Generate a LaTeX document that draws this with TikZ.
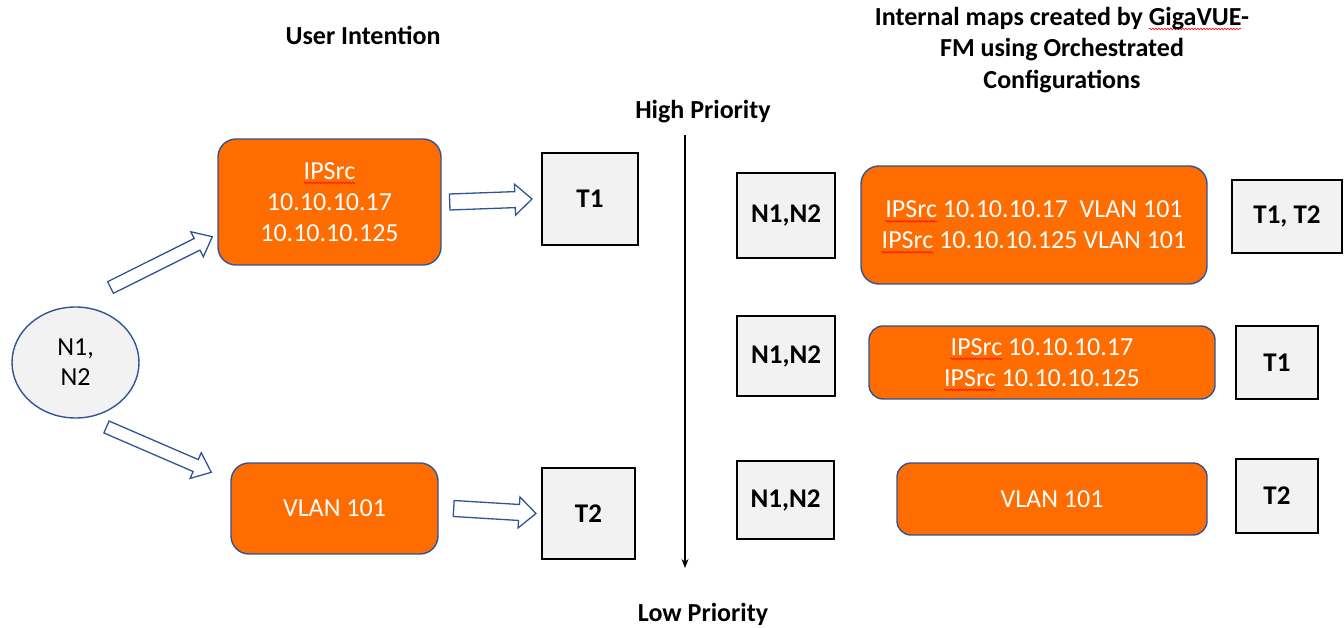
\documentclass[tikz,border=0pt]{standalone}
\usepackage{fontspec}
\setmainfont{Carlito}
\usetikzlibrary{calc,arrows.meta,shapes.geometric,decorations.pathmorphing}
\definecolor{orangeF}{RGB}{255,108,0}
\definecolor{blueL}{RGB}{47,85,151}
\definecolor{grayF}{RGB}{242,242,242}
\newlength\sqw
\newcommand\sq[1]{\settowidth\sqw{#1}\rlap{\tikz[overlay,baseline=0pt,x=1pt,y=1pt]\draw[red,line width=0.6pt,sharp corners,solid,decorate,decoration={snake,amplitude=0.8pt,segment length=3pt}] (0,-3.5) -- (\sqw,-3.5);}#1}
% block arrow: from, to, shaft half width, head half width
\newcommand\barrow[4]{%
  \path let \p1=(#1), \p2=(#2), \n1={atan2(\y2-\y1,\x2-\x1)}, \n2={veclen(\x2-\x1,\y2-\y1)} in
    [barrowsty, shift={(\p1)}, rotate=\n1]
    (0,-#3) -- (\n2-17,-#3) -- (\n2-17,-#4) -- (\n2,0) -- (\n2-17,#4) -- (\n2-17,#3) -- (0,#3) -- cycle;}
\begin{document}
\begin{tikzpicture}[x=1pt,y=-1pt,
  barrowsty/.style={draw=blueL, line width=1.3pt, fill=white, line join=miter},
  gbox/.style={draw=black, line width=2pt, fill=grayF, inner sep=0pt,
    font=\bfseries\fontsize{27}{31}\selectfont},
  obox/.style={draw=blueL, line width=1.4pt, fill=orangeF, rounded corners=18pt,
    text=white, align=center, inner sep=0pt, font=\fontsize{26}{31}\selectfont},
  ell/.style={ellipse, draw=blueL, line width=1.4pt, fill=grayF, inner sep=0pt,
    align=center, font=\fontsize{26}{30}\selectfont},
  lbl/.style={align=center, inner sep=0pt, font=\bfseries\fontsize{26}{31.5}\selectfont},
  axis/.style={line width=1.2pt, -{Stealth[length=9pt,width=7pt]}}
]
\useasboundingbox (0,0) rectangle (1344,628);

% headings
\node[lbl] (ui) at (363,35) {User Intention};
\node[lbl] (hp) at (703,112) {High Priority};
\node[lbl] (lp) at (703,614) {Low Priority};
\node[lbl] (title) at (1062,50) {Internal maps created by \sq{GigaVUE}-\\FM using Orchestrated\\Configurations};

% left side
\node[ell, minimum width=127, minimum height=111] (n) at (75.5,362.5) {N1,\\N2};
\node[obox, minimum width=223, minimum height=126] (ipA) at (329.5,202) {\sq{IPSrc}\\10.10.10.17\\10.10.10.125};
\node[obox, minimum width=207, minimum height=91] (vlA) at (334.5,508.5) {VLAN 101};
\node[gbox, minimum width=96, minimum height=92] (t1) at (590,199) {T1};
\node[gbox, minimum width=93, minimum height=91] (t2) at (588.5,513.5) {T2};

\barrow{$(n.center)+(35,-75)$}{$(ipA.south west)+(-5,-29)$}{6.5}{14}
\barrow{$(n.center)+(31,64.5)$}{$(vlA.north west)+(-19,10)$}{6.5}{14}
\barrow{$(ipA.east)+(8,0)$}{$(t1.west)+(-9,0)$}{8}{15.5}
\barrow{$(vlA.east)+(15,0)$}{$(t2.west)+(-5,0)$}{8}{15.5}

% priority axis
\coordinate (ptop) at (685,135);
\coordinate (pbot) at (685,568);
\draw[axis] (ptop) -- (pbot);

% right side
\node[gbox, minimum width=98, minimum height=85] (na) at (786,215.5) {N1,N2};
\node[gbox, minimum width=98, minimum height=80] (nb) at (786,356) {N1,N2};
\node[gbox, minimum width=97, minimum height=78] (nc) at (785.5,500) {N1,N2};
\node[obox, minimum width=346, minimum height=118] (ra) at (1034,225)
  {\sq{IPSrc} 10.10.10.17\ \ VLAN 101\\\sq{IPSrc} 10.10.10.125 VLAN 101};
\node[obox, minimum width=346, minimum height=73, rounded corners=14pt] (rb) at (1042,362.5)
  {\sq{IPSrc} 10.10.10.17\\\sq{IPSrc} 10.10.10.125};
\node[obox, minimum width=310, minimum height=72, rounded corners=14pt] (rc) at (1052,499) {VLAN 101};
\node[gbox, minimum width=110, minimum height=73] (ta) at (1287,216.5) {T1, T2};
\node[gbox, minimum width=82, minimum height=73] (tb) at (1277,362.5) {T1};
\node[gbox, minimum width=82, minimum height=74] (tc) at (1277,496) {T2};
\end{tikzpicture}
\end{document}
